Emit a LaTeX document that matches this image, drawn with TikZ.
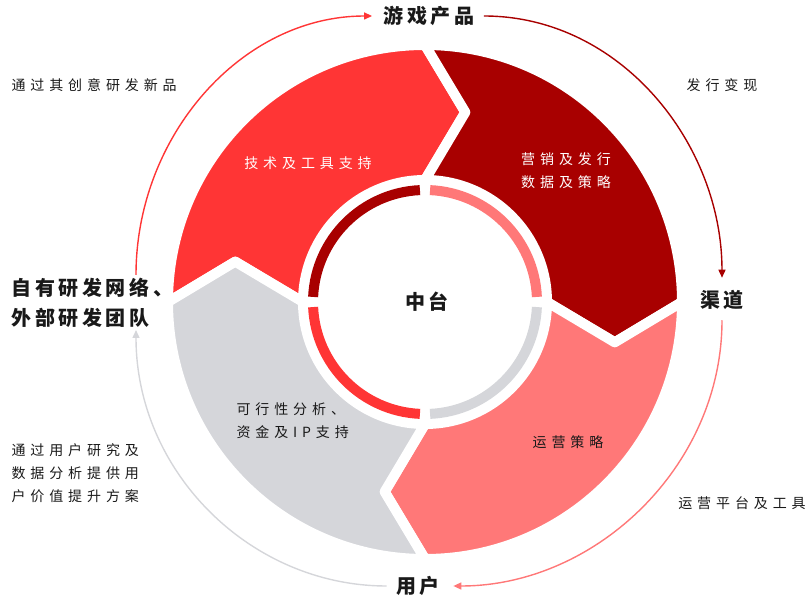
\documentclass[tikz,border=0pt]{standalone}
\usepackage{fontspec}
\usetikzlibrary{arrows.meta}
\newfontfamily\cjk[LetterSpace=35]{Noto Sans CJK SC}
\newfontfamily\cjkbig[LetterSpace=18]{Noto Sans CJK SC}
\definecolor{segred}{RGB}{255,53,53}
\definecolor{segdark}{RGB}{168,0,0}
\definecolor{segpink}{RGB}{255,120,120}
\definecolor{seggray}{RGB}{213,214,218}
\definecolor{txt}{RGB}{25,25,25}

\begin{document}
\begin{tikzpicture}[x=1pt,y=1pt,
	seg/.style={draw=white,line width=10pt,line join=round},
	inring/.style={line width=10pt},
	flow/.style={line width=1.4pt,-{Triangle[length=8pt,width=7pt]}},
	big/.style={font=\cjkbig\bfseries\fontsize{20}{30}\selectfont,text=txt},
	small/.style={font=\cjk\fontsize{14}{23}\selectfont,text=txt,align=left},
	inlabel/.style={font=\cjk\fontsize{14}{23}\selectfont,align=left}]
	\useasboundingbox (0,0) rectangle (809,600);

	% ring parts
	\begin{scope}[shift={(425,298)}]
	\foreach \a/\c in {90/segred,0/segdark,-90/segpink,180/seggray}
		\filldraw[seg,fill=\c] ({\a+90}:257) arc[start angle=\a+90,end angle=\a,radius=257]
		-- ({\a-12}:194) -- (\a:122) arc[start angle=\a,end angle=\a+90,radius=122]
		-- ({\a+78}:194) -- cycle;
	% inner ring
	\foreach \a/\c in {90/segdark,0/segpink,-90/seggray,180/segred}
		\draw[inring,\c] ({\a+2.6}:112) arc[start angle=\a+2.6,end angle=\a+87.4,radius=112];
	\end{scope}

	\node[big] (core) at (427,298) {中台};
	\node[big] (prod) at (429,584) {游戏产品};
	\node[big] (chan) at (722,300) {渠道};
	\node[big] (user) at (418,14) {用户};
	\node[big,align=left,anchor=west] (dev) at (8,297) {自有研发网络、\\外部研发团队};

	\node[small,anchor=west] (idea) at (8,515) {通过其创意研发新品};
	\node[small] (pub) at (722,515) {发行变现};
	\node[small,anchor=west] (research) at (8,127) {通过用户研究及\\数据分析提供用\\户价值提升方案};
	\node[small] (ops) at (742,97) {运营平台及工具};

	\node[inlabel,text=white] (tech) at (308,437) {技术及工具支持};
	\node[inlabel,text=white] (mkt) at (566,429) {营销及发行\\数据及策略};
	\node[inlabel,text=txt,anchor=west] (feas) at (233,179) {可行性分析、\\资金及IP支持};
	\node[inlabel,text=txt] (opstr) at (568,158) {运营策略};

	\coordinate (devtop) at (136,325);
	\coordinate (devbot) at (136,270);
	\draw[flow,segred,shorten >=8pt] (devtop) to[out=90,in=180] (prod.west);
	\draw[flow,segdark,shorten <=6pt,shorten >=9pt] (prod.east) to[out=0,in=90] (chan.north);
	\draw[flow,segpink,shorten <=7pt,shorten >=10pt] (chan.south) to[out=-90,in=0] (user.east);
	\draw[flow,seggray,shorten <=6pt] (user.west) to[out=180,in=-90] (devbot);
\end{tikzpicture}
\end{document}
